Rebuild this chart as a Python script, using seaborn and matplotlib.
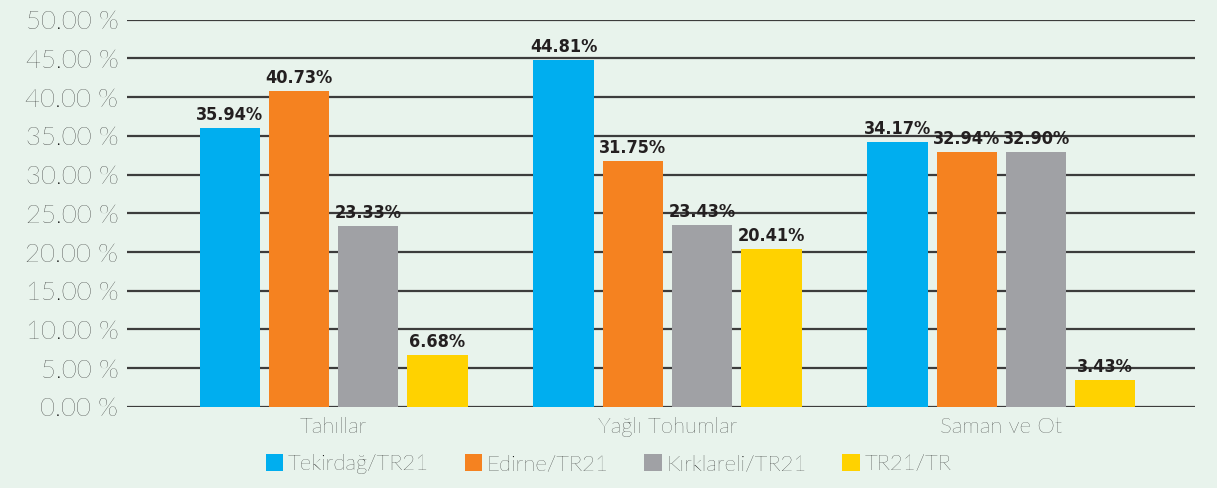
import matplotlib
matplotlib.use("Agg")
import matplotlib.pyplot as plt
import seaborn as sns
import pandas as pd
from matplotlib.patches import Patch
from matplotlib import font_manager

categories = ["Tahıllar", "Yağlı Tohumlar", "Saman ve Ot"]
series = ["Tekirdağ/TR21", "Edirne/TR21", "Kırklareli/TR21", "TR21/TR"]
tekirdag = [35.94, 44.81, 34.17]
edirne = [40.73, 31.75, 32.94]
kirklareli = [23.33, 23.43, 32.90]
tr21_tr = [6.68, 20.41, 3.43]
colors = ["#00aeef", "#f58220", "#a0a1a5", "#ffd200"]
yticks = [0, 5, 10, 15, 20, 25, 30, 35, 40, 45, 50]

rows = []
for name, vals in zip(series, [tekirdag, edirne, kirklareli, tr21_tr]):
    for cat, v in zip(categories, vals):
        rows.append({"Kategori": cat, "Seri": name, "Değer": v})
df = pd.DataFrame(rows)

installed = {f.name for f in font_manager.fontManager.ttflist}
label_family = ["Liberation Sans Narrow"] if "Liberation Sans Narrow" in installed else ["DejaVu Sans"]

bg = "#e8f3ec"
text_color = "#000000"
text_weight = "light"
sns.set_style("white")
plt.rcParams["font.family"] = ["Lato", "DejaVu Sans"]

fig = plt.figure(figsize=(12.17, 4.88), dpi=100, facecolor=bg)
ax = fig.add_axes([0.104, 0.166, 0.878, 0.794])
ax.set_facecolor(bg)

sns.barplot(data=df, x="Kategori", y="Değer", hue="Seri", order=categories,
            hue_order=series, palette=colors, width=0.83, gap=0.13,
            saturation=1, errorbar=None, legend=False, ax=ax, zorder=3,
            linewidth=0, edgecolor="none")

for container in ax.containers:
    ax.bar_label(container, labels=[f"{b.get_height():.2f}%" for b in container],
                 padding=3, fontsize=13, fontweight="bold", fontstretch="condensed",
                 family=label_family, color="#231f20")

ax.set_ylim(0, 50)
ax.set_xlim(-0.62, 2.58)
ax.set_yticks(yticks)
ax.set_yticklabels([f"{t:.2f} %" for t in yticks], fontsize=18.5, fontweight=text_weight, color=text_color)
ax.tick_params(axis="x", labelsize=16, length=0, pad=7, labelcolor=text_color)
ax.tick_params(axis="y", length=0, pad=6)
for lab in ax.get_xticklabels():
    lab.set_fontweight(text_weight)
ax.yaxis.grid(True, color="#3c3c3c", linewidth=1.6, zorder=0)
ax.set_axisbelow(True)
for s in ax.spines.values():
    s.set_visible(False)
ax.set_xlabel("")
ax.set_ylabel("")

handles = [Patch(facecolor=c, edgecolor="none") for c in colors]
leg = fig.legend(handles, series, loc="lower center", bbox_to_anchor=(0.5, -0.012),
                 ncol=4, frameon=False, fontsize=16, handlelength=0.8, handleheight=0.8,
                 handletextpad=0.2, columnspacing=1.6)
for t in leg.get_texts():
    t.set_fontweight(text_weight)
    t.set_color(text_color)

fig.savefig("out.png", dpi=100, facecolor=bg)
